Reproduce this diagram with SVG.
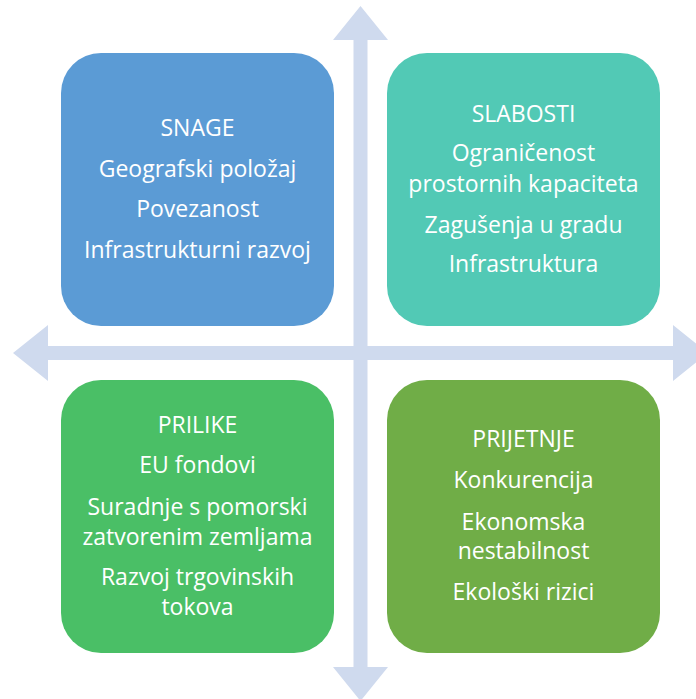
<svg xmlns="http://www.w3.org/2000/svg" width="696" height="699" viewBox="0 0 696 699">
<style>
.box{stroke:none}
.t{font-family:"Open Sans","Liberation Sans",sans-serif;font-size:23px;fill:#FFFFFF;text-anchor:middle}
.arrow{fill:#CFDAEE}
</style>
<rect width="696" height="699" fill="#FFFFFF"/>
<g id="connectors">
<polygon class="arrow" points="360.5,6 388,40 367.5,40 367.5,667 388,667 360.5,701 333,667 353.5,667 353.5,40 333,40"/>
<polygon class="arrow" points="13,353 48,325 48,346 673,346 673,325 708,353 673,381 673,360 48,360 48,381"/>
</g>
<g id="snage">
<rect class="box" x="61" y="53" width="273" height="273" rx="40" fill="#5B9BD5"/>
<text class="t" x="197.5" y="136">SNAGE</text>
<text class="t" x="197.5" y="177">Geografski položaj</text>
<text class="t" x="197.5" y="217">Povezanost</text>
<text class="t" x="197.5" y="258">Infrastrukturni razvoj</text>
</g>
<g id="slabosti">
<rect class="box" x="387" y="53" width="273" height="273" rx="40" fill="#52C9B5"/>
<text class="t" x="523.5" y="122">SLABOSTI</text>
<text class="t" x="523.5" y="161">Ograničenost</text>
<text class="t" x="523.5" y="192">prostornih kapaciteta</text>
<text class="t" x="523.5" y="233">Zagušenja u gradu</text>
<text class="t" x="523.5" y="272">Infrastruktura</text>
</g>
<g id="prilike">
<rect class="box" x="61" y="380" width="273" height="273" rx="40" fill="#4ABF66"/>
<text class="t" x="197.5" y="433">PRILIKE</text>
<text class="t" x="197.5" y="473">EU fondovi</text>
<text class="t" x="197.5" y="515">Suradnje s pomorski</text>
<text class="t" x="197.5" y="545">zatvorenim zemljama</text>
<text class="t" x="197.5" y="585">Razvoj trgovinskih</text>
<text class="t" x="197.5" y="615">tokova</text>
</g>
<g id="prijetnje">
<rect class="box" x="387" y="380" width="273" height="273" rx="40" fill="#70AD47"/>
<text class="t" x="523.5" y="447">PRIJETNJE</text>
<text class="t" x="523.5" y="488">Konkurencija</text>
<text class="t" x="523.5" y="530">Ekonomska</text>
<text class="t" x="523.5" y="559">nestabilnost</text>
<text class="t" x="523.5" y="600">Ekološki rizici</text>
</g>
</svg>
